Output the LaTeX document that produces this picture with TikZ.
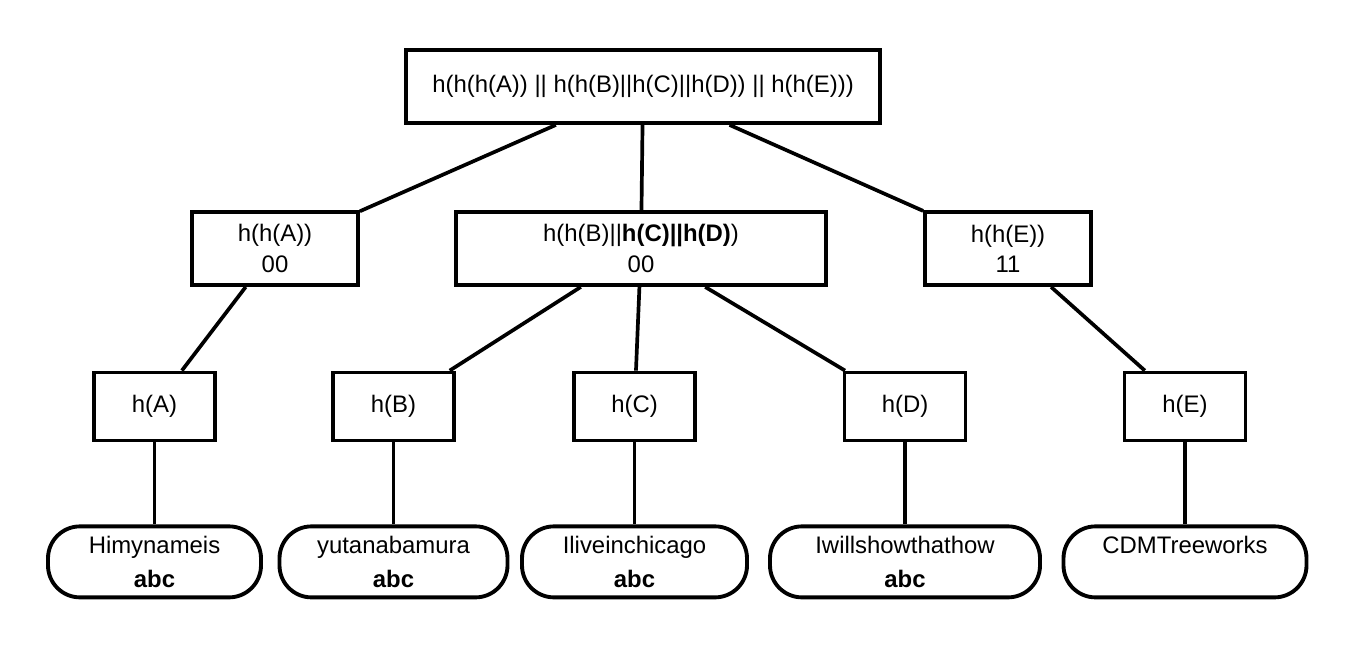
\documentclass[tikz,border=0pt]{standalone}
\usepackage{fontspec}
\setmainfont{Liberation Sans}
\usetikzlibrary{positioning}
\tikzset{
  hashbox/.style={
    rectangle, draw=black, line width=2.2pt, fill=white,
    minimum height=1.46cm, align=center,
    font=\fontsize{13.6pt}{17.2pt}\selectfont, inner sep=2pt
  },
  leafhash/.style={hashbox, minimum width=2.42cm, minimum height=1.36cm},
  datablock/.style={
    rectangle, rounded corners=0.64cm, draw=black, line width=2.2pt,
    minimum height=1.42cm, align=center, inner sep=2pt,
    font=\fontsize{13.6pt}{19pt}\selectfont
  },
  link/.style={line width=2.1pt, draw=black}
}

\begin{document}
\begin{tikzpicture}
\useasboundingbox (0,0) rectangle (27,-12.92);
\node[hashbox, minimum width=9.48cm] (root) at (12.86,-1.73) {h(h(h(A)) || h(h(B)||h(C)||h(D)) || h(h(E)))};
\node[hashbox, minimum width=3.32cm] (ha2) at (5.5,-4.97) {h(h(A))\\00};
\node[hashbox, minimum width=7.4cm] (hbcd) at (12.82,-4.97) {h(h(B)||\textbf{h(C)||h(D)})\\00};
\node[hashbox, minimum width=3.32cm] (he2) at (20.16,-4.97) {h(h(E))\\11};
\node[leafhash] (ha) at (3.09,-8.13) {h(A)};
\node[leafhash] (hb) at (7.87,-8.13) {h(B)};
\node[leafhash] (hc) at (12.69,-8.13) {h(C)};
\node[leafhash] (hd) at (18.1,-8.13) {h(D)};
\node[leafhash] (he) at (23.7,-8.13) {h(E)};
\node[datablock, minimum width=4.26cm, below=1.64cm of ha] (la) {Himynameis\\\textbf{abc}};
\node[datablock, minimum width=4.56cm, below=1.64cm of hb] (lb) {yutanabamura\\\textbf{abc}};
\node[datablock, minimum width=4.5cm, below=1.64cm of hc] (lc) {Iliveinchicago\\\textbf{abc}};
\node[datablock, minimum width=5.4cm, below=1.64cm of hd] (ld) {Iwillshowthathow\\\textbf{abc}};
\node[datablock, minimum width=4.86cm, below=1.64cm of he] (le) {CDMTreeworks\\\vphantom{\textbf{abc}}};
\draw[link] (root) -- (ha2);
\draw[link] (root) -- (hbcd);
\draw[link] (root) -- (he2);
\draw[link] (ha2) -- (ha);
\draw[link] (hbcd) -- (hb);
\draw[link] (hbcd) -- (hc);
\draw[link] (hbcd) -- (hd);
\draw[link] (he2) -- (he);
\draw[link] (ha) -- (la);
\draw[link] (hb) -- (lb);
\draw[link] (hc) -- (lc);
\draw[link] (hd) -- (ld);
\draw[link] (he) -- (le);
\end{tikzpicture}
\end{document}
